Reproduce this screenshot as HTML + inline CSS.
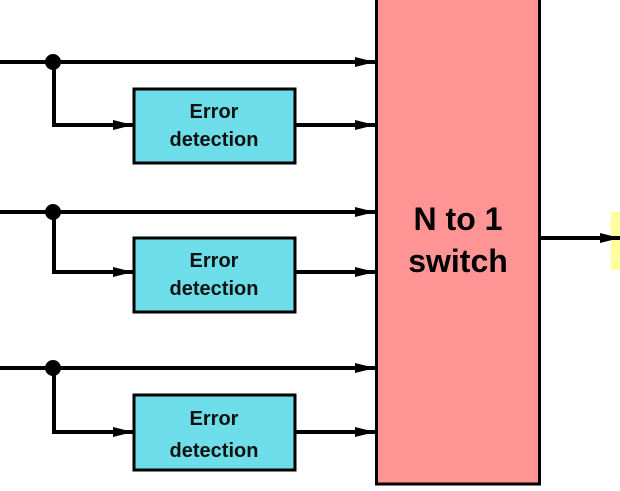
<!DOCTYPE html>
<html><head><style>body{margin:0;background:#fff}</style></head><body>
<svg width="620" height="486" viewBox="0 0 620 486" xmlns="http://www.w3.org/2000/svg" font-family="Liberation Sans, sans-serif" font-weight="bold">
<defs><marker id="a" markerWidth="8" markerHeight="8" refX="7" refY="4" orient="auto" markerUnits="userSpaceOnUse"><path d="M0,0 L20,4 L0,8 Z" transform="scale(1)" fill="#000"/></marker>
<marker id="b" viewBox="0 0 20 10" refX="20" refY="5" markerWidth="20" markerHeight="10" orient="auto" markerUnits="userSpaceOnUse"><path d="M0,0 L20,5 L0,10 Z" fill="#000"/></marker></defs>
<rect x="611" y="212" width="9" height="58" fill="#ffff99"/>
<rect x="376.5" y="-2" width="163" height="486" fill="#ff9494" stroke="#000" stroke-width="3"/>
<text x="458" y="230" font-size="32" text-anchor="middle">N to 1</text>
<text x="458" y="272" font-size="32" text-anchor="middle">switch</text>
<line x1="540" y1="238" x2="620" y2="238" stroke="#000" stroke-width="4" marker-end="url(#b)"/>
<g stroke="#000" stroke-width="4" fill="none">
<line x1="0" y1="62" x2="375" y2="62" marker-end="url(#b)"/>
<polyline points="54,62 54,125 133,125" marker-end="url(#b)"/>
<line x1="296" y1="125" x2="375" y2="125" marker-end="url(#b)"/>
<line x1="0" y1="212" x2="375" y2="212" marker-end="url(#b)"/>
<polyline points="54,212 54,272 133,272" marker-end="url(#b)"/>
<line x1="296" y1="272" x2="375" y2="272" marker-end="url(#b)"/>
<line x1="0" y1="368" x2="375" y2="368" marker-end="url(#b)"/>
<polyline points="54,368 54,432 133,432" marker-end="url(#b)"/>
<line x1="296" y1="432" x2="375" y2="432" marker-end="url(#b)"/>
</g>
<circle cx="53" cy="62" r="8"/><circle cx="53" cy="212" r="8"/><circle cx="53" cy="368" r="8"/>
<g fill="#6cdde9" stroke="#000" stroke-width="3">
<rect x="134" y="89" width="161" height="74"/>
<rect x="134" y="238" width="161" height="74"/>
<rect x="134" y="395" width="161" height="75"/>
</g>
<g font-size="20" text-anchor="middle" fill="#111">
<text x="214" y="118">Error</text><text x="214" y="146">detection</text>
<text x="214" y="267">Error</text><text x="214" y="295">detection</text>
<text x="214" y="425">Error</text><text x="214" y="457">detection</text>
</g>
</svg>
</body></html>
